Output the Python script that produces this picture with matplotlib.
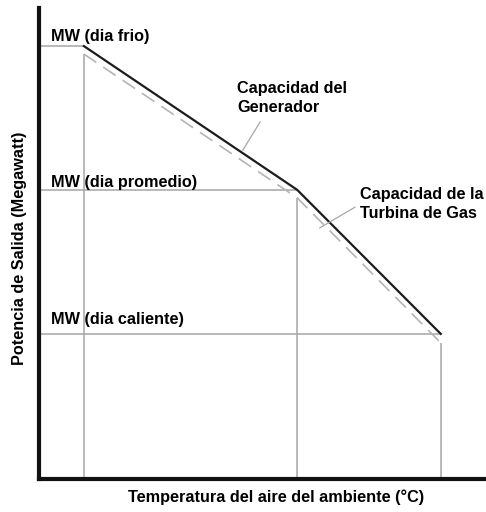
import matplotlib
matplotlib.use("Agg")
import matplotlib.pyplot as plt

# ambient temperature (relative axis units) for cold, average and hot day
temps = [10.1, 58.0, 90.3]
# generator capacity and gas turbine capacity (relative axis units)
gen_mw = [91.9, 61.4, 30.8]
turb_mw = [90.2, 59.7, 28.9]
day_labels = ["MW (dia frio)", "MW (dia promedio)", "MW (dia caliente)"]

plt.rcParams["font.family"] = ["Liberation Sans", "DejaVu Sans"]

fig = plt.figure(figsize=(4.86, 5.12), dpi=100)
ax = fig.add_axes([0.0802, 0.0645, 0.9156, 0.92])
ax.set_xlim(0, 100)
ax.set_ylim(0, 100)

fs = 11.7
grey = "#a6a6a6"
label_gap = [1.1, 0.5, 2.1]
for t, g, tb, lab, gap in zip(temps, gen_mw, turb_mw, day_labels, label_gap):
    ax.plot([0, t], [g, g], color=grey, lw=1.1, solid_capstyle="butt")
    ax.plot([t, t], [tb, 0], color=grey, lw=1.1, solid_capstyle="butt")
    ax.text(2.6, g + gap, lab, fontsize=fs, fontweight="bold", va="baseline", ha="left")

ax.plot(temps, turb_mw, color="#b4b4b4", lw=1.2, dashes=(9, 5))
ax.plot(temps, gen_mw, color="#1c1c1c", lw=1.6)

# callouts
ax.plot([49.7, 45.8], [75.8, 69.8], color=grey, lw=0.9)
ax.text(44.5, 84.5, "Capacidad del\nGenerador", fontsize=fs, fontweight="bold",
        ha="left", va="top", linespacing=1.3)
ax.plot([71.0, 63.1], [57.7, 53.3], color=grey, lw=0.9)
ax.text(72.1, 61.9, "Capacidad de la\nTurbina de Gas", fontsize=fs, fontweight="bold",
        ha="left", va="top", linespacing=1.3)

for side in ("top", "right"):
    ax.spines[side].set_visible(False)
for side in ("left", "bottom"):
    ax.spines[side].set_linewidth(3)
    ax.spines[side].set_color("#111111")
ax.set_xticks([])
ax.set_yticks([])

ax.set_xlabel("Temperatura del aire del ambiente (°C)", fontsize=fs, fontweight="bold", va="center")
ax.xaxis.set_label_coords(0.533, -0.038)
ax.set_ylabel("Potencia de Salida (Megawatt)", fontsize=fs, fontweight="bold", va="center")
ax.yaxis.set_label_coords(-0.043, 0.49)

fig.savefig("out.png", dpi=100)
